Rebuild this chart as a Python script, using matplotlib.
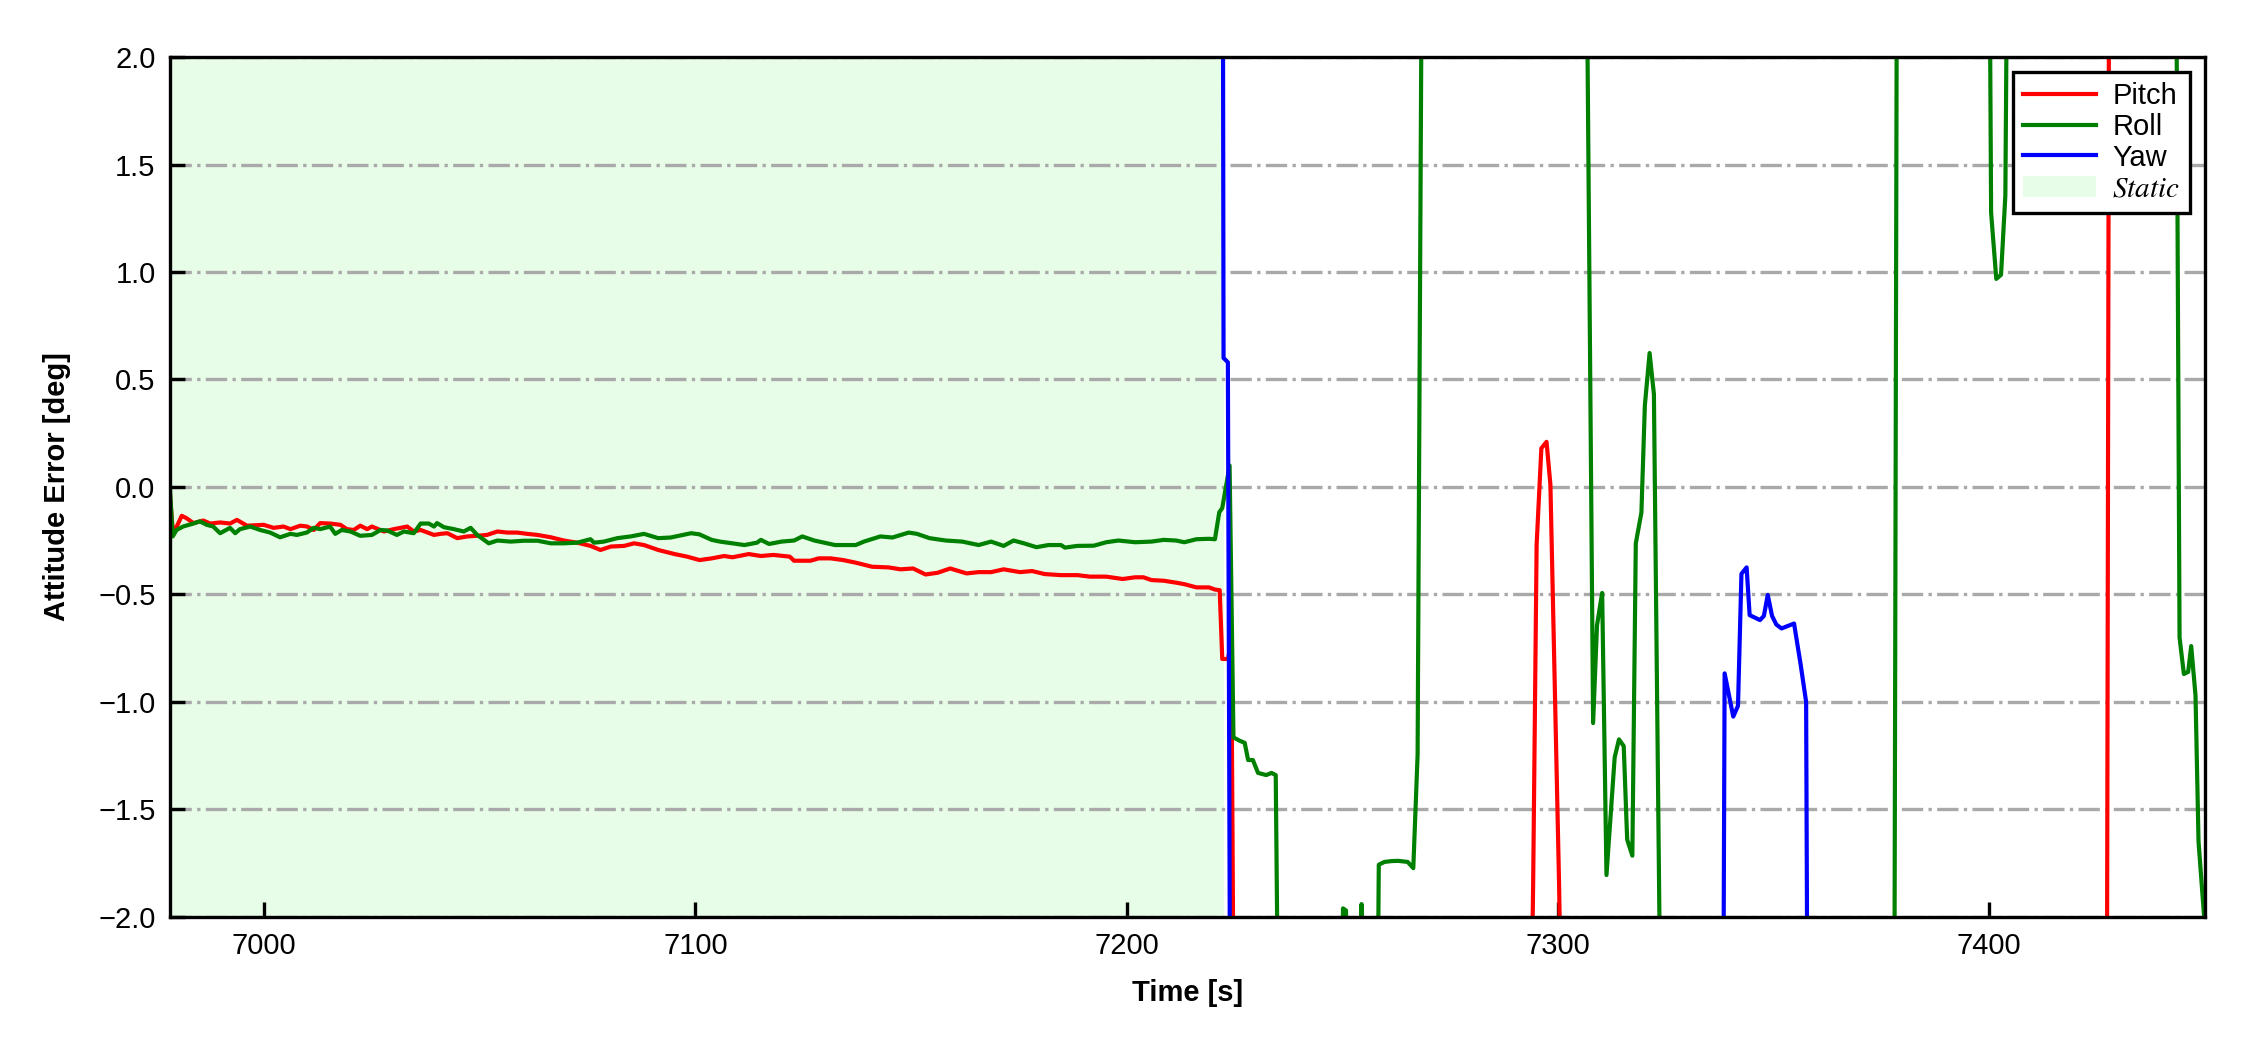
import matplotlib
matplotlib.use('Agg')
import matplotlib.pyplot as plt

# attitude error traces (values beyond +-2 are off-scale)
pitch_t = [6978.2, 6978.9, 6980.9, 6982.0, 6983.6, 6985.9, 6987.5, 6989.8, 6992.1, 6993.7,
           6996.0, 6999.9, 7002.2, 7004.5, 7006.1, 7008.4, 7010.0, 7011.5, 7013.0, 7015.3,
           7017.7, 7019.2, 7020.8, 7022.3, 7023.9, 7025.0, 7027.8, 7030.1, 7033.2, 7034.7,
           7036.3, 7039.4, 7040.9, 7042.5, 7044.8, 7047.1, 7049.4, 7051.7, 7054.1, 7056.4,
           7058.7, 7061.0, 7063.4, 7066.5, 7069.5, 7072.6, 7075.7, 7078.0, 7080.4, 7083.5,
           7085.8, 7088.1, 7091.4, 7095.2, 7098.1, 7101.0, 7103.8, 7106.7, 7108.6, 7112.4,
           7115.2, 7118.1, 7121.9, 7122.9, 7126.7, 7128.6, 7131.4, 7134.3, 7137.2, 7141.0,
           7144.8, 7147.6, 7150.5, 7153.4, 7156.2, 7159.1, 7162.9, 7165.7, 7168.6, 7171.5,
           7175.3, 7178.1, 7181.0, 7184.8, 7188.6, 7191.5, 7195.3, 7199.1, 7202.0, 7203.9,
           7205.8, 7208.6, 7211.5, 7213.4, 7216.2, 7219.1, 7220.5, 7221.6, 7222.2, 7223.5,
           7224.3, 7225.0, 7293.5, 7294.3, 7295.1, 7296.2, 7297.4, 7298.3, 7300.3, 7301.3,
           7427.3, 7427.9, 7450.1]
pitch_v = [-0.05, -0.22, -0.134, -0.145, -0.168, -0.156, -0.17, -0.165, -0.17, -0.153,
           -0.18, -0.176, -0.19, -0.184, -0.196, -0.18, -0.184, -0.2, -0.168, -0.17,
           -0.176, -0.196, -0.2, -0.18, -0.196, -0.184, -0.207, -0.196, -0.184, -0.207,
           -0.2, -0.223, -0.218, -0.215, -0.238, -0.23, -0.227, -0.223, -0.207, -0.212,
           -0.212, -0.218, -0.223, -0.234, -0.249, -0.259, -0.274, -0.293, -0.277, -0.274,
           -0.262, -0.27, -0.293, -0.312, -0.324, -0.34, -0.332, -0.321, -0.327, -0.312,
           -0.321, -0.316, -0.324, -0.343, -0.343, -0.332, -0.332, -0.34, -0.352, -0.371,
           -0.374, -0.383, -0.379, -0.407, -0.399, -0.379, -0.402, -0.396, -0.396, -0.383,
           -0.396, -0.391, -0.405, -0.41, -0.41, -0.417, -0.417, -0.428, -0.42, -0.42,
           -0.433, -0.436, -0.445, -0.452, -0.467, -0.467, -0.477, -0.48, -0.80, -0.80,
           -0.725, -3.0, -3.0, -1.84, -0.27, 0.18, 0.21, 0.01, -1.84, -3.0,
           -3.0, 3.0, 3.0]

roll_t = [6978.2, 6978.8, 6979.7, 6981.2, 6983.6, 6985.1, 6986.7, 6988.2, 6989.8, 6992.1,
          6993.3, 6994.4, 6996.8, 6999.1, 7001.4, 7003.7, 7006.1, 7007.6, 7009.9, 7011.5,
          7013.0, 7015.3, 7016.5, 7018.0, 7020.0, 7022.3, 7025.0, 7027.0, 7028.5, 7030.8,
          7032.4, 7034.7, 7036.3, 7038.2, 7039.4, 7040.1, 7041.7, 7044.0, 7046.3, 7047.9,
          7049.4, 7052.1, 7054.1, 7057.2, 7060.2, 7063.4, 7066.5, 7069.5, 7072.6, 7075.7,
          7076.5, 7078.8, 7081.9, 7085.0, 7088.1, 7091.4, 7094.3, 7097.1, 7099.0, 7100.9,
          7103.8, 7105.7, 7108.6, 7111.4, 7114.3, 7115.2, 7117.1, 7120.0, 7122.9, 7124.8,
          7127.6, 7130.5, 7132.4, 7137.2, 7139.1, 7142.9, 7145.7, 7149.5, 7151.4, 7154.3,
          7158.1, 7161.9, 7165.7, 7168.6, 7171.5, 7173.8, 7176.2, 7179.1, 7181.9, 7184.8,
          7185.7, 7188.6, 7192.4, 7195.3, 7198.1, 7202.0, 7205.8, 7208.6, 7211.5, 7213.4,
          7216.2, 7219.1, 7220.5, 7221.5, 7222.2, 7223.9, 7224.8, 7226.2, 7227.4, 7228.2,
          7229.3, 7230.5, 7232.4, 7233.6, 7234.6, 7235.4, 7249.7, 7250.2, 7250.9, 7251.3,
          7254.1, 7254.5, 7254.9, 7258.0, 7258.5, 7259.8, 7261.5, 7263.0, 7265.2, 7266.5,
          7267.5, 7268.6, 7306.5, 7308.2, 7309.1, 7310.3, 7311.3, 7313.2, 7314.2, 7315.3,
          7316.1, 7317.3, 7318.1, 7319.4, 7320.2, 7321.3, 7322.3, 7324.1, 7378.0, 7378.7,
          7400.0, 7400.5, 7401.7, 7402.8, 7403.8, 7404.4, 7443.3, 7444.2, 7445.2, 7446.2,
          7446.9, 7447.9, 7448.6, 7449.9, 7450.1]
roll_v = [-0.02, -0.23, -0.2, -0.184, -0.17, -0.16, -0.176, -0.184, -0.215, -0.19,
          -0.215, -0.196, -0.184, -0.2, -0.212, -0.234, -0.218, -0.223, -0.212, -0.19,
          -0.196, -0.184, -0.218, -0.2, -0.207, -0.227, -0.223, -0.2, -0.202, -0.223,
          -0.207, -0.215, -0.17, -0.17, -0.184, -0.168, -0.187, -0.196, -0.207, -0.19,
          -0.223, -0.262, -0.249, -0.254, -0.25, -0.25, -0.262, -0.262, -0.259, -0.243,
          -0.259, -0.254, -0.238, -0.23, -0.218, -0.238, -0.235, -0.223, -0.215, -0.22,
          -0.246, -0.254, -0.262, -0.27, -0.259, -0.246, -0.265, -0.254, -0.249, -0.23,
          -0.249, -0.262, -0.27, -0.27, -0.254, -0.23, -0.235, -0.212, -0.218, -0.238,
          -0.249, -0.254, -0.27, -0.254, -0.274, -0.249, -0.262, -0.28, -0.27, -0.27,
          -0.282, -0.274, -0.273, -0.257, -0.249, -0.257, -0.254, -0.246, -0.249, -0.257,
          -0.243, -0.241, -0.243, -0.118, -0.098, 0.10, -1.165, -1.18, -1.19, -1.27,
          -1.27, -1.33, -1.34, -1.33, -1.34, -3.0, -3.0, -1.96, -1.97, -3.0,
          -3.0, -1.94, -3.0, -3.0, -1.757, -1.744, -1.74, -1.739, -1.744, -1.773,
          -1.245, 3.0, 3.0, -1.098, -0.644, -0.493, -1.805, -1.258, -1.174, -1.205,
          -1.64, -1.715, -0.262, -0.119, 0.379, 0.623, 0.432, -3.0, -3.0, 3.0,
          3.0, 1.275, 0.968, 0.987, 1.355, 3.0, 3.0, -0.70, -0.87, -0.86,
          -0.74, -0.97, -1.65, -2.0, -2.1]

yaw_t = [6978.2, 7222.3, 7222.5, 7223.5, 7224.1, 7338.3, 7338.7, 7340.7, 7341.8, 7342.6,
         7343.8, 7344.5, 7346.9, 7347.8, 7348.7, 7349.7, 7350.7, 7351.9, 7354.8, 7356.3,
         7357.6, 7358.0, 7450.1]
yaw_v = [3.0, 3.0, 0.60, 0.58, -3.0, -3.0, -0.867, -1.068, -1.018, -0.404,
         -0.374, -0.596, -0.619, -0.6, -0.502, -0.6, -0.64, -0.658, -0.635, -0.822,
         -1.0, -3.0, -3.0]

static_start = 6978.2
static_end = 7222.5

y_ticks = [-2.0, -1.5, -1.0, -0.5, 0.0, 0.5, 1.0, 1.5, 2.0]
x_ticks = [7000, 7100, 7200, 7300, 7400]

plt.rcParams['font.family'] = ['Liberation Sans', 'DejaVu Sans']
plt.rcParams['mathtext.fontset'] = 'stix'
plt.rcParams['xtick.direction'] = 'in'
plt.rcParams['ytick.direction'] = 'in'

fig = plt.figure(figsize=(7.5, 3.5), dpi=300)
ax = fig.add_axes([0.0756, 0.1267, 0.9044, 0.819])

ax.axvspan(static_start, static_end, color='#e8fde8', lw=0, label='$Static$', zorder=0)
ax.plot(pitch_t, pitch_v, color='r', lw=1.0, label='Pitch')
ax.plot(roll_t, roll_v, color='g', lw=1.0, label='Roll')
ax.plot(yaw_t, yaw_v, color='b', lw=1.0, label='Yaw')

ax.set_xlim(min(pitch_t), max(pitch_t))
ax.set_ylim(-2, 2)
ax.set_xticks(x_ticks)
ax.set_yticks(y_ticks)
ax.tick_params(labelsize=7, length=3.5, width=0.8)
ax.yaxis.grid(True, linestyle='-.', color='darkgray', lw=0.8)
ax.set_axisbelow('line')

ax.set_xlabel('Time [s]', fontsize=7, fontweight='bold', labelpad=4.7)
ax.set_ylabel('Attitude Error [deg]', fontsize=7, fontweight='bold', labelpad=6.5)

handles, labels = ax.get_legend_handles_labels()
order = [1, 2, 3, 0]
leg = ax.legend([handles[i] for i in order], [labels[i] for i in order],
                loc='upper right', fontsize=7, fancybox=False, framealpha=1,
                edgecolor='black', labelspacing=0.1, borderpad=0.35,
                handlelength=2.5, handletextpad=0.55)
leg.get_frame().set_linewidth(0.8)

fig.savefig('out.png', dpi=300)
